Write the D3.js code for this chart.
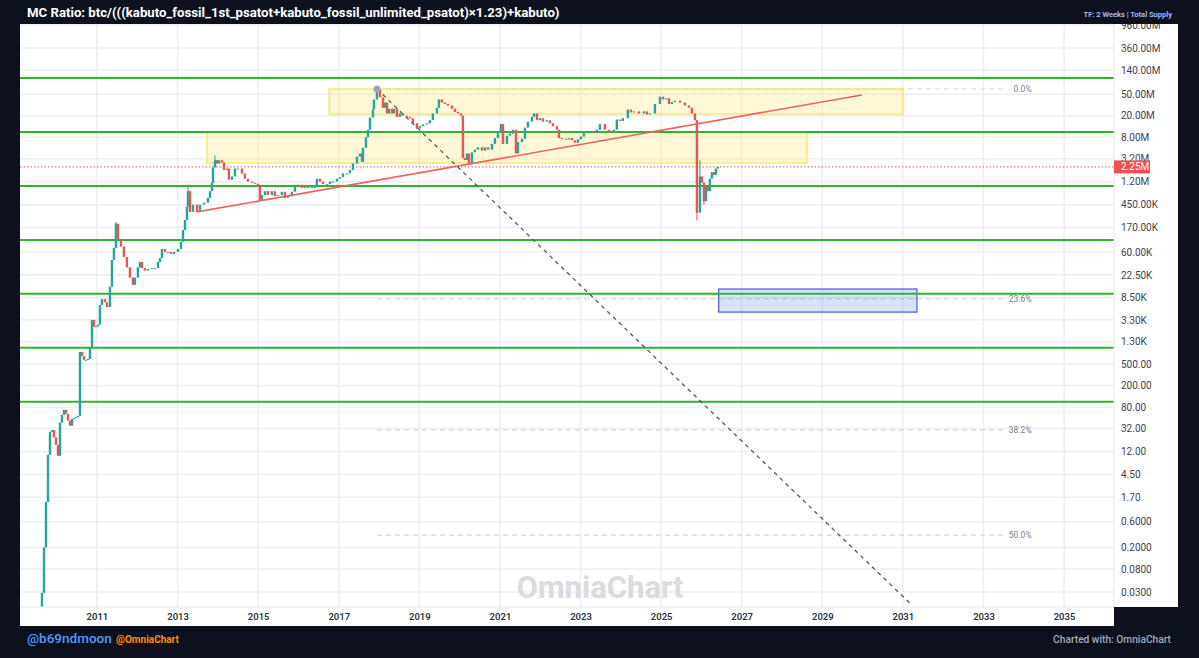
<!DOCTYPE html>
<html><head><meta charset="utf-8">
<script src="https://cdn.jsdelivr.net/npm/d3@7/dist/d3.min.js"></script>
<style>html,body{margin:0;padding:0;background:#0c111d;overflow:hidden}svg{display:block}</style>
</head><body>
<svg id="c" width="1199" height="658"></svg>
<script>
// ---------------- DATA ----------------
const titleText = "MC Ratio: btc/(((kabuto_fossil_1st_psatot+kabuto_fossil_unlimited_psatot)×1.23)+kabuto)";
const tfText = "TF: 2 Weeks | Total Supply";
// candle dates (decimal years) and closes
const dates = [2009.635,2009.685,2009.734,2009.784,2009.834,2009.883,2009.933,2009.983,2010.032,2010.082,2010.131,2010.181,2010.231,2010.280,2010.330,2010.380,2010.429,2010.479,2010.529,2010.578,2010.628,2010.677,2010.727,2010.777,2010.826,2010.876,2010.926,2010.975,2011.025,2011.074,2011.124,2011.199,2011.248,2011.323,2011.372,2011.422,2011.471,2011.521,2011.596,2011.670,2011.744,2011.819,2011.893,2011.943,2012.017,2012.067,2012.117,2012.191,2012.266,2012.365,2012.439,2012.514,2012.563,2012.613,2012.687,2012.762,2012.836,2012.911,2013.010,2013.084,2013.134,2013.184,2013.233,2013.258,2013.308,2013.382,2013.481,2013.556,2013.655,2013.754,2013.804,2013.854,2013.878,2013.928,2013.978,2014.027,2014.102,2014.151,2014.226,2014.275,2014.350,2014.424,2014.499,2014.598,2014.672,2014.747,2014.846,2014.921,2014.995,2015.045,2015.094,2015.169,2015.243,2015.342,2015.417,2015.491,2015.590,2015.665,2015.739,2015.839,2015.913,2015.988,2016.087,2016.161,2016.236,2016.335,2016.409,2016.459,2016.533,2016.608,2016.707,2016.782,2016.856,2016.955,2017.030,2017.104,2017.203,2017.278,2017.352,2017.452,2017.526,2017.576,2017.600,2017.675,2017.725,2017.774,2017.849,2017.873,2017.948,2018.022,2018.097,2018.146,2018.196,2018.246,2018.320,2018.370,2018.444,2018.519,2018.593,2018.692,2018.767,2018.841,2018.940,2019.015,2019.089,2019.189,2019.263,2019.337,2019.437,2019.486,2019.561,2019.635,2019.710,2019.809,2019.883,2019.958,2020.032,2020.082,2020.131,2020.181,2020.231,2020.305,2020.380,2020.454,2020.553,2020.628,2020.702,2020.801,2020.876,2020.950,2021.025,2021.074,2021.174,2021.248,2021.323,2021.397,2021.447,2021.546,2021.620,2021.695,2021.794,2021.844,2021.918,2021.993,2022.067,2022.166,2022.241,2022.315,2022.414,2022.464,2022.538,2022.638,2022.712,2022.787,2022.861,2022.935,2023.010,2023.084,2023.208,2023.333,2023.407,2023.481,2023.605,2023.705,2023.829,2023.903,2023.978,2024.052,2024.176,2024.251,2024.325,2024.449,2024.573,2024.648,2024.722,2024.846,2024.970,2025.045,2025.119,2025.194,2025.268,2025.342,2025.467,2025.591,2025.690,2025.764,2025.839,2025.888,2025.963,2026.012,2026.062,2026.112,2026.161,2026.211,2026.261,2026.310,2026.360,2026.410];
const closes = [0.029,0.2,1.4,10.4,27.8,30,22,16,10,41,57,71,60,45,36,48,50,52,55,843,700,600,600,620,1000,3300,2450,2500,2700,6250,8000,7000,5700,13500,42600,71000,200000,100000,75000,48000,31000,20000,14700,20000,31000,39000,30000,27000,29000,30000,30000,39000,46000,68000,60000,60000,55000,60000,68000,92000,153000,235000,410000,800000,330000,450000,330000,450000,490000,600000,800000,1140000,2200000,3000000,2600000,3000000,2700000,1970000,2100000,1300000,1500000,2100000,2100000,1700000,1360000,1200000,1140000,1100000,960000,550000,680000,800000,680000,800000,650000,680000,780000,600000,640000,780000,960000,1050000,920000,960000,920000,960000,960000,1360000,1200000,1080000,1080000,1200000,1200000,1360000,1450000,1700000,1700000,1970000,2600000,3500000,4000000,2800000,5100000,8000000,11000000,18500000,26000000,40000000,60000000,44000000,28000000,35000000,22000000,27000000,22000000,27000000,19000000,22000000,20000000,19000000,18000000,14500000,11500000,12800000,13800000,14500000,16500000,22000000,28000000,40000000,35000000,33000000,31000000,27000000,23500000,22000000,20000000,3300000,3000000,4000000,2600000,4200000,4700000,5200000,4500000,5200000,4700000,6000000,7700000,9500000,14000000,6000000,8500000,9300000,11000000,4000000,6500000,7500000,12000000,15500000,19000000,22000000,16500000,18000000,15500000,16500000,14500000,12800000,11000000,7700000,7500000,7300000,7700000,7000000,6300000,7300000,8200000,9500000,10000000,9500000,11000000,14000000,11000000,10000000,11000000,17000000,16000000,18000000,26000000,23000000,24000000,22000000,24000000,21000000,22000000,33000000,45000000,40000000,42000000,33000000,36000000,38000000,35000000,31000000,28000000,22000000,16500000,320000,1500000,1150000,520000,960000,800000,1360000,1800000,1600000,2100000,2250000];
const firstOpen = 0.016;
// notable wicks: [date, low, high]
const wicks = [[2011.471,71000,215000],[2013.258,410000,1050000],[2013.928,2200000,3700000],[2015.045,540000,960000],[2025.888,230000,16500000],[2025.963,320000,3000000],[2026.062,450000,1150000]];
const lastPrice = 2250000, lastLabel = "2.25M";

const yTicks = [960e6,360e6,140e6,50e6,20e6,8e6,3.2e6,1.2e6,450e3,170e3,60e3,22.5e3,8.5e3,3.3e3,1.3e3,500,200,80,32,12,4.5,1.7,0.6,0.2,0.08,0.03];
const xTickYears = [2011,2013,2015,2017,2019,2021,2023,2025,2027,2029,2031,2033,2035];
const greenLevels = [1e8,1e7,1e6,1e5,1e4,1e3,1e2];
// zones: [startDate, endDate, low, high]
const yellowZones = [[2013.73,2028.62,2.66e6,1.0e7],[2016.76,2031.0,2.15e7,6.25e7]];
const blueZone = [2026.43,2031.35,4.6e3,1.23e4];
const trendLine = [[2013.48,3.3e5],[2029.98,4.84e7]];
const diagLine = [[2017.948,6.25e7],[2031.22,0.0172]];
const peakPoint = [2017.948,6.25e7];
const fibStart = 2017.95, fibEnd = 2033.5;
const fibLabels = ["0.0%","23.6%","38.2%","50.0%"];
const fibValues = [6.25e7,8.04e3,30,0.34];

// ---------------- LAYOUT ----------------
const svg = d3.select("#c");
const L = 20, R = 1114, T = 24, B = 607;
const toDate = y => { const yr = Math.floor(y); const s = new Date(yr,0,1), e = new Date(yr+1,0,1); return new Date(+s + (y-yr)*(e-s)); };
const x = d3.scaleTime().domain([toDate(2009.089), toDate(2036.24)]).range([L, R]);
const y = d3.scaleLog().domain([0.0158, 1.0e9]).range([B, T]);

// white panels
svg.append("rect").attr("x",L).attr("y",T).attr("width",1178-L).attr("height",B-T).attr("fill","#fff");
svg.append("rect").attr("x",L).attr("y",B).attr("width",R-L).attr("height",626-B).attr("fill","#fff");

const clip = svg.append("defs").append("clipPath").attr("id","pc");
clip.append("rect").attr("x",L).attr("y",T).attr("width",R-L).attr("height",B-T);
const g = svg.append("g").attr("clip-path","url(#pc)");

// gridlines
g.selectAll(".hg").data(yTicks).join("line").attr("x1",L).attr("x2",R)
  .attr("y1",d=>y(d)).attr("y2",d=>y(d)).attr("stroke","#eceef2").attr("stroke-width",1.5);
g.selectAll(".vg").data(xTickYears).join("line").attr("y1",T).attr("y2",B)
  .attr("x1",d=>x(toDate(d))).attr("x2",d=>x(toDate(d))).attr("stroke","#eceef2").attr("stroke-width",1.5);

// fib lines
g.selectAll(".fib").data(fibValues).join("line")
  .attr("x1",x(toDate(fibStart))).attr("x2",x(toDate(fibEnd)))
  .attr("y1",d=>y(d)).attr("y2",d=>y(d)).attr("stroke","#d3d6dd").attr("stroke-width",1.2).attr("stroke-dasharray","5,4");
g.selectAll(".fibt").data(fibValues).join("text")
  .attr("x",x(toDate(fibEnd))+28).attr("y",d=>y(d)+3).attr("text-anchor","end")
  .attr("font-family","Roboto, sans-serif").attr("font-size",8.5).attr("fill","#7c818b").text((d,i)=>fibLabels[i]);

// zones
g.selectAll(".yz").data(yellowZones).join("rect")
  .attr("x",d=>x(toDate(d[0]))).attr("width",d=>x(toDate(d[1]))-x(toDate(d[0])))
  .attr("y",d=>y(d[3])).attr("height",d=>y(d[2])-y(d[3]))
  .attr("fill","rgba(255,232,120,0.3)").attr("stroke","#f4e65c").attr("stroke-width",1.3);
g.append("rect").attr("x",x(toDate(blueZone[0]))).attr("width",x(toDate(blueZone[1]))-x(toDate(blueZone[0])))
  .attr("y",y(blueZone[3])).attr("height",y(blueZone[2])-y(blueZone[3]))
  .attr("fill","rgba(110,150,240,0.28)").attr("stroke","#4a55ee").attr("stroke-width",1.2);

// green levels
g.selectAll(".gl").data(greenLevels).join("line").attr("x1",L).attr("x2",R)
  .attr("y1",d=>y(d)).attr("y2",d=>y(d)).attr("stroke","#2db52d").attr("stroke-width",2);

// last price dotted line
g.append("line").attr("x1",L).attr("x2",R).attr("y1",y(lastPrice)).attr("y2",y(lastPrice))
  .attr("stroke","#ef5350").attr("stroke-width",1).attr("stroke-dasharray","1.5,2");

// candles
const up = "#26a69a", dn = "#ef5350";
const candles = dates.map((d,i)=>({d:toDate(d), o: i===0?firstOpen:closes[i-1], c: closes[i]}));
const cw = 2.4;
g.selectAll(".wk").data(wicks).join("line")
  .attr("x1",d=>x(toDate(d[0]))).attr("x2",d=>x(toDate(d[0])))
  .attr("y1",d=>y(d[2])).attr("y2",d=>y(d[1]))
  .attr("stroke",d=>{const i=dates.indexOf(d[0]); return i>=0 && candles[i].c>=candles[i].o?up:dn;}).attr("stroke-width",1);
g.selectAll(".cd").data(candles).join("rect")
  .attr("x",d=>x(d.d)-cw/2).attr("width",cw)
  .attr("y",d=>y(Math.max(d.o,d.c))).attr("height",d=>Math.max(1,Math.abs(y(d.o)-y(d.c))))
  .attr("fill",d=>d.c>=d.o?up:dn);

// trend line
g.append("line").attr("x1",x(toDate(trendLine[0][0]))).attr("y1",y(trendLine[0][1]))
  .attr("x2",x(toDate(trendLine[1][0]))).attr("y2",y(trendLine[1][1]))
  .attr("stroke","#f0625c").attr("stroke-width",1.6);
// diagonal dashed
g.append("line").attr("x1",x(toDate(diagLine[0][0]))).attr("y1",y(diagLine[0][1]))
  .attr("x2",x(toDate(diagLine[1][0]))).attr("y2",y(diagLine[1][1]))
  .attr("stroke","#555a66").attr("stroke-width",1.3).attr("stroke-dasharray","4,4");
g.append("circle").attr("cx",x(toDate(peakPoint[0]))).attr("cy",y(peakPoint[1])).attr("r",3.5).attr("fill","#9ea3ba");

// watermark
svg.append("text").attr("x",600).attr("y",598).attr("text-anchor","middle")
  .attr("font-family","Roboto, sans-serif").attr("font-weight",700).attr("font-size",31)
  .attr("fill","#d4d6da").attr("opacity",0.85).text("OmniaChart");

// axes separators
svg.append("line").attr("x1",R).attr("x2",R).attr("y1",T).attr("y2",B).attr("stroke","#e3e5ea").attr("stroke-width",1);
svg.append("line").attr("x1",L).attr("x2",R).attr("y1",B).attr("y2",B).attr("stroke","#e3e5ea").attr("stroke-width",1);

// y axis
const fmt = v => v>=1e6 ? (v/1e6).toFixed(2)+"M" : v>=1e3 ? (v/1e3).toFixed(2)+"K" : v>=1 ? v.toFixed(2) : v.toFixed(4);
const ya = svg.append("g").attr("transform",`translate(${R},0)`)
  .call(d3.axisRight(y).tickValues(yTicks).tickFormat(fmt).tickSize(0).tickPadding(7));
ya.select(".domain").remove();
ya.selectAll("text").attr("font-family","Roboto, sans-serif").attr("font-size",10).attr("fill","#3d4350");

// x axis
const xa = svg.append("g").attr("transform",`translate(0,${B})`)
  .call(d3.axisBottom(x).tickValues(xTickYears.map(toDate)).tickFormat(d3.timeFormat("%Y")).tickSize(0).tickPadding(6));
xa.select(".domain").remove();
xa.selectAll("text").attr("font-family","Roboto, sans-serif").attr("font-weight",600).attr("font-size",9.5).attr("fill","#2e333d");

// price tag (drawn over the nearby tick label, as in the source)
svg.append("rect").attr("x",R).attr("y",y(lastPrice)-6.5).attr("width",36).attr("height",13).attr("fill","#f0504f");
svg.append("text").attr("x",R+7).attr("y",y(lastPrice)+3.5).attr("font-family","Roboto, sans-serif")
  .attr("font-size",10).attr("fill","#fff").text(lastLabel);

// header bar (covers overflow)
svg.append("rect").attr("x",0).attr("y",0).attr("width",1199).attr("height",T).attr("fill","#0c111d");
svg.append("text").attr("x",27).attr("y",17).attr("font-family","Roboto, sans-serif").attr("font-weight",700)
  .attr("font-size",13.2).attr("fill","#fff").text(titleText);
svg.append("text").attr("x",1172).attr("y",17).attr("text-anchor","end").attr("font-family","Roboto, sans-serif")
  .attr("font-weight",700).attr("font-size",7.5).attr("fill","#aab4f2").text(tfText);

// footer
svg.append("text").attr("x",27).attr("y",643).attr("font-family","Roboto, sans-serif").attr("font-weight",500)
  .attr("font-size",13.5).attr("fill","#4d9dff").text("@b69ndmoon");
svg.append("text").attr("x",116).attr("y",643).attr("font-family","Roboto, sans-serif").attr("font-weight",700)
  .attr("font-size",10).attr("fill","#ff8a1f").text("@OmniaChart");
svg.append("text").attr("x",1171).attr("y",643).attr("text-anchor","end").attr("font-family","Roboto, sans-serif")
  .attr("font-weight",500).attr("font-size",10.2).attr("fill","#a3abbb").text("Charted with: OmniaChart");
</script>
</body></html>
